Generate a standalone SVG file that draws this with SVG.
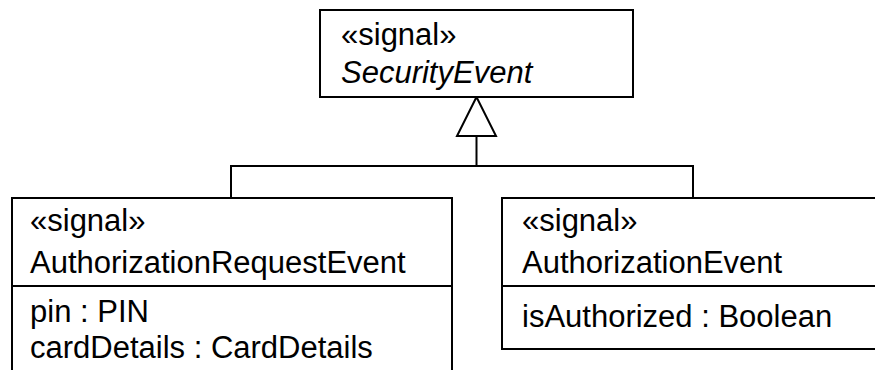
<svg xmlns="http://www.w3.org/2000/svg" width="875" height="370" viewBox="0 0 875 370">
<style>
.box{fill:#fff;stroke:#000;stroke-width:2}
.ln{fill:none;stroke:#000;stroke-width:2}
.t{font-family:"Liberation Sans",Arial,sans-serif;font-size:31px;fill:#000}
.it{font-style:italic}
</style>
<rect width="875" height="370" fill="#fff"/>
<g id="connectors">
<polyline class="ln" points="231,198 231,166 693,166 693,198"/>
<line class="ln" x1="476.5" y1="166" x2="476.5" y2="136"/>
<polygon class="box" points="476.5,97 457,136 496,136"/>
</g>
<g id="SecurityEvent">
<rect class="box" x="320" y="10" width="313" height="87"/>
<text class="t" x="341" y="45">«signal»</text>
<text class="t it" x="341" y="83">SecurityEvent</text>
</g>
<g id="AuthorizationRequestEvent">
<rect class="box" x="12" y="198" width="440" height="190"/>
<line class="ln" x1="12" y1="286" x2="452" y2="286"/>
<text class="t" x="30" y="231">«signal»</text>
<text class="t" x="30" y="273">AuthorizationRequestEvent</text>
<text class="t" x="30" y="322">pin : PIN</text>
<text class="t" x="30" y="358">cardDetails : CardDetails</text>
</g>
<g id="AuthorizationEvent">
<rect class="box" x="502" y="198" width="400" height="151"/>
<line class="ln" x1="502" y1="286" x2="902" y2="286"/>
<text class="t" x="522" y="231">«signal»</text>
<text class="t" x="522" y="273">AuthorizationEvent</text>
<text class="t" x="522" y="327">isAuthorized : Boolean</text>
</g>
</svg>
